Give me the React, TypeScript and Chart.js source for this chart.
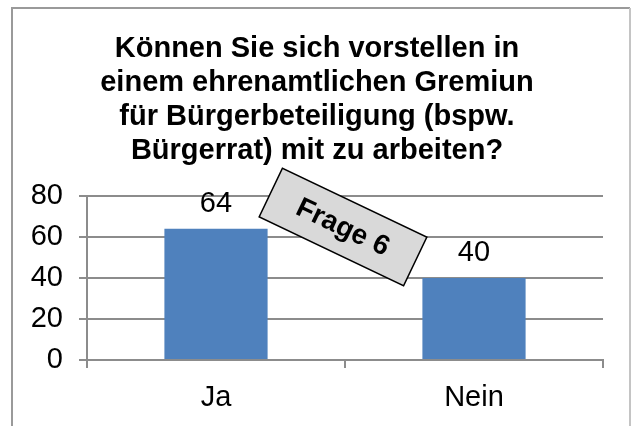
import React, { useEffect, useRef } from "react";
import { Chart, registerables } from "chart.js";

Chart.register(...registerables);

const titleLines = [
  "Können Sie sich vorstellen in",
  "einem ehrenamtlichen Gremiun",
  "für Bürgerbeteiligung (bspw.",
  "Bürgerrat) mit zu arbeiten?",
];
const categories = ["Ja", "Nein"];
const values = [64, 40];
const yTicks = [0, 20, 40, 60, 80];
const annotationText = "Frage 6";

const FONT = "'Liberation Sans', Arial, sans-serif";

const framePlugin = {
  id: "frame",
  beforeDraw(chart: any) {
    const ctx = chart.ctx;
    ctx.save();
    ctx.fillStyle = "#ffffff";
    ctx.fillRect(0, 0, chart.width, chart.height);
    ctx.lineWidth = 2;
    ctx.strokeStyle = "#9a9a9a";
    ctx.beginPath();
    ctx.moveTo(12, chart.height + 5);
    ctx.lineTo(12, 8);
    ctx.lineTo(630, 8);
    ctx.stroke();
    ctx.strokeStyle = "#c4c4c4";
    ctx.beginPath();
    ctx.moveTo(630, 8);
    ctx.lineTo(630, chart.height + 5);
    ctx.stroke();
    ctx.restore();
  },
};

const valueLabelPlugin = {
  id: "valueLabels",
  afterDatasetsDraw(chart: any) {
    const ctx = chart.ctx;
    const meta = chart.getDatasetMeta(0);
    ctx.save();
    ctx.font = `29px ${FONT}`;
    ctx.fillStyle = "#000";
    ctx.textAlign = "center";
    ctx.textBaseline = "alphabetic";
    meta.data.forEach((bar: any, i: number) => {
      ctx.fillText(String(values[i]), bar.x, bar.y - 17);
    });
    ctx.restore();
  },
};

const annotationPlugin = {
  id: "frageBox",
  afterDraw(chart: any) {
    const ctx = chart.ctx;
    const a = chart.chartArea;
    const cx = (a.left + a.right) / 2 - 2;
    const cy = a.top + 31;
    ctx.save();
    ctx.translate(cx, cy);
    ctx.rotate((25.5 * Math.PI) / 180);
    ctx.fillStyle = "#d9d9d9";
    ctx.strokeStyle = "#000";
    ctx.lineWidth = 1.5;
    ctx.beginPath();
    ctx.rect(-80, -27, 160, 54);
    ctx.fill();
    ctx.stroke();
    ctx.fillStyle = "#000";
    ctx.font = `bold 28px ${FONT}`;
    ctx.textAlign = "center";
    ctx.textBaseline = "middle";
    ctx.fillText(annotationText, 0, 1);
    ctx.restore();
  },
};

export default function App() {
  const ref = useRef<HTMLCanvasElement>(null);
  useEffect(() => {
    if (!ref.current) return;
    const chart = new Chart(ref.current, {
      type: "bar",
      data: {
        labels: categories,
        datasets: [
          {
            data: values,
            backgroundColor: "#4f81bd",
            borderWidth: 0,
            barPercentage: 0.4,
            categoryPercentage: 1,
          },
        ],
      },
      plugins: [framePlugin, valueLabelPlugin, annotationPlugin],
      options: {
        animation: false,
        responsive: false,
        layout: { padding: { left: 31, right: 29, top: 0, bottom: 0 } },
        plugins: {
          legend: { display: false },
          tooltip: { enabled: false },
          title: {
            display: true,
            text: titleLines,
            color: "#000",
            font: { family: FONT, size: 29, weight: "bold", lineHeight: 34 / 29 },
            padding: { top: 32, bottom: 28 },
          },
        },
        scales: {
          x: {
            grid: {
              display: true,
              drawOnChartArea: false,
              drawTicks: true,
              tickLength: 8,
              color: "#8c8c8c",
              lineWidth: 2,
              offset: true,
            },
            border: { display: true, color: "#8c8c8c", width: 2 },
            ticks: { color: "#000", font: { family: FONT, size: 29 }, padding: 13 },
            afterFit: (scale: any) => {
              scale.height = 66;
            },
          },
          y: {
            min: 0,
            max: 80,
            afterBuildTicks: (scale: any) => {
              scale.ticks = yTicks.map((v) => ({ value: v }));
            },
            grid: { color: "#8c8c8c", lineWidth: 2, tickLength: 8 },
            border: { display: true, color: "#8c8c8c", width: 2 },
            ticks: { color: "#000", font: { family: FONT, size: 29 }, padding: 16 },
            afterFit: (scale: any) => {
              scale.width = 56;
            },
          },
        },
      },
    });
    return () => chart.destroy();
  }, []);
  return (
    <div style={{ position: "absolute", left: 0, top: 0, width: 632, height: 426, overflow: "hidden" }}>
      <canvas ref={ref} width={632} height={426} style={{ display: "block" }} />
    </div>
  );
}
